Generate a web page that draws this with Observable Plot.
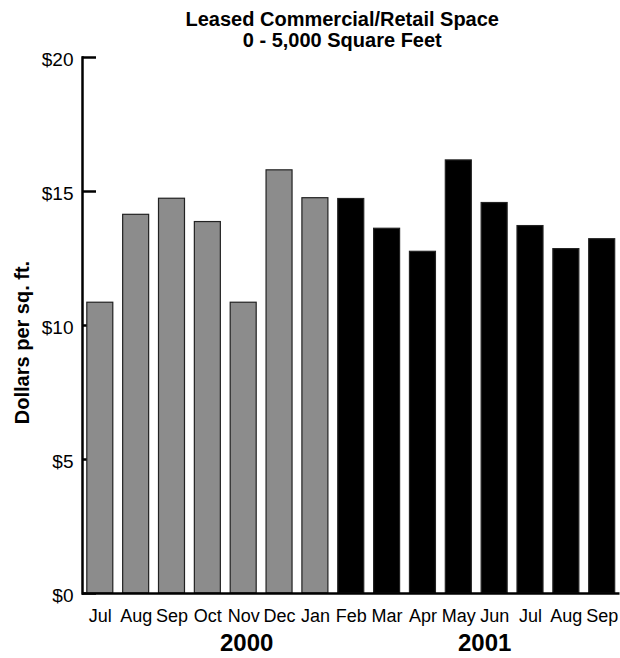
<!DOCTYPE html>
<html>
<head>
<meta charset="utf-8">
<script src="https://cdn.jsdelivr.net/npm/d3@7"></script>
<script src="https://cdn.jsdelivr.net/npm/@observablehq/plot@0.6"></script>
<style>
  body { margin: 0; background: white; }
</style>
</head>
<body>
<div id="chart"></div>
<script>
const titleLines = ["Leased Commercial/Retail Space", "0 - 5,000 Square Feet"];
const yLabel = "Dollars per sq. ft.";
const months = ["Jul","Aug","Sep","Oct","Nov","Dec","Jan","Feb","Mar","Apr","May","Jun","Jul","Aug","Sep"];
const series = ["2000","2000","2000","2000","2000","2000","2000","2001","2001","2001","2001","2001","2001","2001","2001"];
const values = [10.85, 14.13, 14.73, 13.86, 10.85, 15.79, 14.75, 14.72, 13.61, 12.75, 16.16, 14.57, 13.71, 12.85, 13.22];
const yTicks = [0, 5, 10, 15, 20];
const yearLabels = ["2000", "2001"];
const yearLabelAt = [4, 11];

const keys = months.map((m, i) => String(i));
const data = values.map((v, i) => ({key: keys[i], month: months[i], value: v, series: series[i]}));

const W = 620, H = 658, ML = 82, MR = 0.5, MT = 57, MB = 65;
const frameW = W - ML - MR;

const chart = Plot.plot({
  width: W, height: H,
  marginLeft: ML, marginRight: MR, marginTop: MT, marginBottom: MB,
  style: {fontFamily: "'Liberation Sans', Arial, Helvetica, sans-serif", background: "white", color: "black"},
  x: {type: "band", domain: keys, paddingInner: 0.275, paddingOuter: 0.134, align: 0.5, round: false},
  y: {domain: [0, 20]},
  color: {domain: ["2000", "2001"], range: ["#8c8c8c", "#000000"]},
  marks: [
    Plot.ruleY(yTicks, {stroke: "black", strokeWidth: 2.5, insetRight: frameW - 14}),
    Plot.barY(data, {x: "key", y: "value", fill: "series", stroke: "#222", strokeWidth: 1.2}),
    Plot.ruleY([0], {stroke: "black", strokeWidth: 2.5}),
    Plot.frame({anchor: "left", stroke: "black", strokeWidth: 2.5}),
    Plot.axisY({ticks: yTicks, tickSize: 0, tickPadding: 9, tickFormat: d => "$" + d, fontSize: 19, label: null, dy: 2}),
    Plot.axisX({tickSize: 0, tickPadding: 16, tickFormat: k => months[+k], fontSize: 18, label: null}),
    Plot.text([yLabel], {frameAnchor: "left", textAnchor: "middle", rotate: -90, dx: -60, dy: 17, fontSize: 20, fontWeight: "bold"}),
    Plot.text([titleLines.join("\n")], {frameAnchor: "top", lineAnchor: "top", dx: -9, dy: -46, fontSize: 20, fontWeight: "bold", lineHeight: 1.05}),
    Plot.text([yearLabels[0]], {x: [keys[yearLabelAt[0]]], frameAnchor: "bottom", lineAnchor: "top", dx: 3, dy: 40, fontSize: 24, fontWeight: "bold"}),
    Plot.text([yearLabels[1]], {x: [keys[yearLabelAt[1]]], frameAnchor: "bottom", lineAnchor: "top", dx: -10, dy: 40, fontSize: 24, fontWeight: "bold"})
  ]
});
document.getElementById("chart").appendChild(chart);
</script>
</body>
</html>
